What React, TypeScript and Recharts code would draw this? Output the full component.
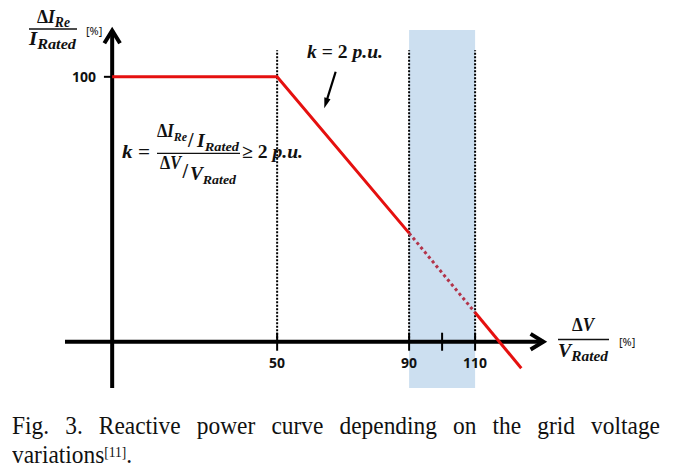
import { LineChart, Line, XAxis, YAxis, ReferenceArea, ReferenceLine } from "recharts";

// reactive current curve (x: ΔV/V_rated %, y: ΔI_Re/I_rated %)
const voltagePct = [0, 50, 90, 110, 124];
const currentPct = [100, 100, 41, 11, -10];

// x-axis ticks and their labels (100 is an unlabeled mid tick)
const xTicks = [50, 90, 100, 110];
const xTickLabels = ["50", "90", "", "110"];
const guideLines = [50, 90, 110];
const yTicks = [100];
const deadBand = [90, 110];

const points = voltagePct.map((v, i) => ({ v, i: currentPct[i] }));
const activeLow = points.slice(0, 3);
const deadPart = points.slice(2, 4);
const activeHigh = points.slice(3);

const RED = "#E5100F";
const mathFont = '"Liberation Serif", serif';
const sansFont = '"Noto Sans", sans-serif';

// axis line with an open chevron at the far end
const chevronArrow = (head: number, spread: number, width: number) => (p: any) => {
    const { x1, y1, x2, y2 } = p;
    const a = Math.atan2(y2 - y1, x2 - x1);
    const w1 = `${x2 - head * Math.cos(a - spread)},${y2 - head * Math.sin(a - spread)}`;
    const w2 = `${x2 - head * Math.cos(a + spread)},${y2 - head * Math.sin(a + spread)}`;
    return (
        <g>
            <line x1={x1} y1={y1} x2={x2} y2={y2} stroke="#000" strokeWidth={width} />
            <polyline points={`${w1} ${x2},${y2} ${w2}`} fill="none" stroke="#000" strokeWidth={width} strokeLinejoin="miter" />
        </g>
    );
};

// thin pointer arrow with filled head
const pointerArrow = (p: any) => {
    const { x1, y1, x2, y2 } = p;
    const a = Math.atan2(y2 - y1, x2 - x1);
    const head = 11;
    const spread = 0.3;
    const w1 = `${x2 - head * Math.cos(a - spread)},${y2 - head * Math.sin(a - spread)}`;
    const w2 = `${x2 - head * Math.cos(a + spread)},${y2 - head * Math.sin(a + spread)}`;
    return (
        <g>
            <line x1={x1} y1={y1} x2={x2 - 6 * Math.cos(a)} y2={y2 - 6 * Math.sin(a)} stroke="#000" strokeWidth={2.2} />
            <polygon points={`${w1} ${x2},${y2} ${w2}`} fill="#000" />
        </g>
    );
};

const xTickShape = (label: string) => (p: any) => (
    <g>
        <line x1={p.x1} y1={p.y1} x2={p.x2} y2={p.y2} stroke="#000" strokeWidth={2} />
        {label && (
            <text x={(p.x1 + p.x2) / 2} y={Math.max(p.y1, p.y2) + 17} textAnchor="middle"
                fontFamily={sansFont} fontWeight="bold" fontSize={14} fill="#111">
                {label}
            </text>
        )}
    </g>
);

const yTickShape = (label: string) => (p: any) => (
    <g>
        <line x1={p.x1} y1={p.y1} x2={p.x2} y2={p.y2} stroke="#000" strokeWidth={2} />
        <text x={Math.min(p.x1, p.x2) - 8} y={p.y1 + 5} textAnchor="end"
            fontFamily={sansFont} fontWeight="bold" fontSize={14} fill="#111">
            {label}
        </text>
    </g>
);

// bold italic math text stretched to the width measured on the figure
const MathText = ({ x, y, w, size = 18, children }: any) => (
    <text x={x} y={y} textLength={w} lengthAdjust="spacingAndGlyphs" fontFamily={mathFont}
        fontWeight="bold" fontStyle="italic" fontSize={size} fill="#111">
        {children}
    </text>
);

const Sub = ({ children, size = 14 }: any) => (
    <tspan fontSize={size} dy={4}>{children}</tspan>
);

const Delta = () => <tspan fontStyle="normal">Δ</tspan>;

export default function App() {
    return (
        <div style={{ position: "absolute", left: 0, top: 0, width: 678, height: 476, background: "#fff" }}>
            <LineChart width={678} height={400} margin={{ top: 0, right: 0, bottom: 0, left: 0 }}>
                <XAxis type="number" dataKey="v" domain={[-34, 171.5]} hide allowDataOverflow />
                <YAxis type="number" dataKey="i" domain={[-22, 129]} hide allowDataOverflow />

                <ReferenceArea x1={deadBand[0]} x2={deadBand[1]} y1={-17.5} y2={117.7}
                    fill="#CCDFF0" fillOpacity={1} stroke="none" />

                {guideLines.map((g) => (
                    <ReferenceLine key={g} segment={[{ x: g, y: 0 }, { x: g, y: 110 }]}
                        stroke="#000" strokeWidth={2} strokeDasharray="2 1.5" />
                ))}

                {/* axes */}
                <ReferenceLine segment={[{ x: -14.3, y: 0 }, { x: 130.7, y: 0 }]} shape={chevronArrow(15, 0.55, 4)} />
                <ReferenceLine segment={[{ x: 0, y: -17.5 }, { x: 0, y: 117.5 }]} shape={chevronArrow(15, 0.55, 4)} />

                {xTicks.map((t, idx) => (
                    <ReferenceLine key={t} segment={[{ x: t, y: -3.4 }, { x: t, y: 3.4 }]}
                        shape={xTickShape(xTickLabels[idx])} />
                ))}
                {yTicks.map((t) => (
                    <ReferenceLine key={t} segment={[{ x: -2.5, y: t }, { x: 0, y: t }]}
                        shape={yTickShape(String(t))} />
                ))}

                <Line data={activeLow} dataKey="i" stroke={RED} strokeWidth={3} dot={false} activeDot={false}
                    isAnimationActive={false} />
                <Line data={deadPart} dataKey="i" stroke="#B3344A" strokeWidth={3} strokeDasharray="3 3"
                    dot={false} activeDot={false} isAnimationActive={false} />
                <Line data={activeHigh} dataKey="i" stroke={RED} strokeWidth={3} dot={false} activeDot={false}
                    isAnimationActive={false} />

                <ReferenceLine segment={[{ x: 67.74, y: 101.9 }, { x: 64.29, y: 88.1 }]} shape={pointerArrow} />

                {/* y axis title */}
                <MathText x={37} y={23} w={33}><Delta />I<Sub>Re</Sub></MathText>
                <line x1={29} y1={29} x2={77} y2={29} stroke="#111" strokeWidth={1.3} />
                <MathText x={29} y={45} w={47}>I<Sub>Rated</Sub></MathText>
                <text x={86} y={35} fontFamily={sansFont} fontSize={11} fill="#111">[%]</text>

                {/* x axis title */}
                <MathText x={572} y={331} w={22}><Delta />V</MathText>
                <line x1={558} y1={339.5} x2={609} y2={339.5} stroke="#111" strokeWidth={1.3} />
                <MathText x={558} y={357} w={50}>V<Sub>Rated</Sub></MathText>
                <text x={619} y={346} fontFamily={sansFont} fontSize={11} fill="#111">[%]</text>

                {/* slope annotation */}
                <MathText x={307} y={58} w={76}>k <tspan fontStyle="normal">= 2</tspan> p.u.</MathText>

                {/* k definition */}
                <MathText x={122} y={158} w={28} size={19}>k <tspan fontStyle="normal">=</tspan></MathText>
                <MathText x={157} y={137} w={30}><Delta />I<Sub size={13}>Re</Sub></MathText>
                <text x={188} y={147} fontFamily={mathFont} fontWeight="bold" fontSize={20} fill="#111">/</text>
                <MathText x={197} y={147} w={42}>I<Sub size={13}>Rated</Sub></MathText>
                <line x1={157} y1={153.3} x2={240} y2={153.3} stroke="#111" strokeWidth={1.3} />
                <MathText x={160} y={169} w={21}><Delta />V</MathText>
                <text x={182.5} y={178} fontFamily={mathFont} fontWeight="bold" fontSize={20} fill="#111">/</text>
                <MathText x={190} y={180} w={46}>V<Sub size={13}>Rated</Sub></MathText>
                <MathText x={242} y={158} w={61} size={19}><tspan fontStyle="normal">≥ 2</tspan> p.u.</MathText>

                {/* dead band label */}
                <text x={440} y={206} textAnchor="middle" fontFamily={sansFont} fontWeight="bold" fontSize={17} fill="#111">Dead</text>
                <text x={440} y={227} textAnchor="middle" fontFamily={sansFont} fontWeight="bold" fontSize={17} fill="#111">Band</text>
            </LineChart>

            <div style={{
                position: "absolute", left: 12, top: 411, width: 720,
                transform: "scaleX(0.9)", transformOrigin: "0 0",
                fontFamily: '"Liberation Serif", serif', fontSize: 26, lineHeight: "29px", color: "#111",
            }}>
                <div style={{ textAlign: "justify", textAlignLast: "justify" }}>
                    Fig. 3. Reactive power curve depending on the grid voltage
                </div>
                <div>
                    variations<span style={{ fontSize: 15, position: "relative", top: -6 }}>[11]</span>.
                </div>
            </div>
        </div>
    );
}
